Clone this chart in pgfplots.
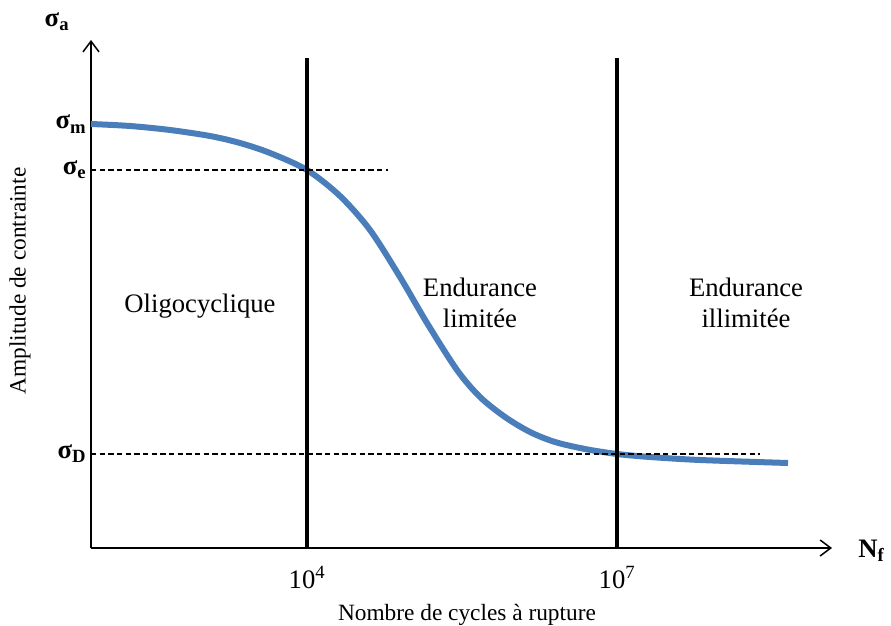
\documentclass[border=0pt]{standalone}
\usepackage{fontspec}
\setmainfont{Liberation Serif}
\usepackage{pgfplots}
\pgfplotsset{compat=1.18}
\usetikzlibrary{arrows.meta}
\definecolor{curveblue}{RGB}{74,126,187}
\newcommand{\bigfont}{\fontsize{20}{23.25}\selectfont}
\newcommand{\labfont}{\fontsize{17.5}{21}\selectfont}
\begin{document}
\begin{tikzpicture}
  \begin{axis}[
    scale only axis,
    width=555.75pt, height=381pt,
    xmin=91, xmax=832, ymin=77, ymax=585,
    axis lines=left,
    axis line style={line width=1.1pt, -{Straight Barb[length=8pt,width=12pt]}},
    xtick={307,617},
    xticklabels={10\textsuperscript{4}, 10\textsuperscript{7}},
    ytick={171,455,501},
    yticklabels={\textbf{σ\textsubscript{D}}, \textbf{σ\textsubscript{e}}, \textbf{σ\textsubscript{m}}},
    major tick length=0pt,
    tick label style={font=\bigfont},
    xticklabel style={yshift=-10pt},
    clip=false,
  ]
    % curve
    \addplot[curveblue, line width=4.5pt, smooth] coordinates {
      (91,501) (130,499) (170,495) (210,489) (240,482) (270,472) (307,455)
      (340,429) (370,395) (400,348) (427,302) (457,255) (480,228) (505,208)
      (530,193) (555,183) (585,176) (617,171) (650,168) (700,165) (788,162)
    };
    % dashed levels
    \addplot[black, line width=0.8pt, dash pattern=on 4pt off 2.5pt] coordinates {(91,455) (388,455)};
    \addplot[black, line width=0.8pt, dash pattern=on 4pt off 2.5pt] coordinates {(91,171) (760,171)};
    % region boundaries
    \addplot[black, line width=3pt] coordinates {(307,77) (307,567)};
    \addplot[black, line width=3pt] coordinates {(617,77) (617,567)};
    % texts
    \node[font=\bigfont, anchor=base] at (axis cs:200,313) {Oligocyclique};
    \node[font=\bigfont, align=center] at (axis cs:480,322) {Endurance\\limitée};
    \node[font=\bigfont, align=center] at (axis cs:746,322) {Endurance\\illimitée};
    \node[font=\bigfont] at (axis cs:57,603) {\textbf{σ\textsubscript{a}}};
    \node[font=\bigfont, anchor=base west, inner sep=0pt] at (axis cs:858,68) {\textbf{N\textsubscript{f}}};
    \node[font=\labfont, anchor=base] at (axis cs:467,5) {Nombre de cycles à rupture};
    \node[font=\labfont, rotate=90] at (axis cs:20,344) {Amplitude de contrainte};
    \coordinate (bl) at (axis cs:0,0);
    \coordinate (tr) at (axis cs:891,625);
  \end{axis}
  \pgfresetboundingbox
  \path (bl) rectangle (tr);
\end{tikzpicture}
\end{document}
